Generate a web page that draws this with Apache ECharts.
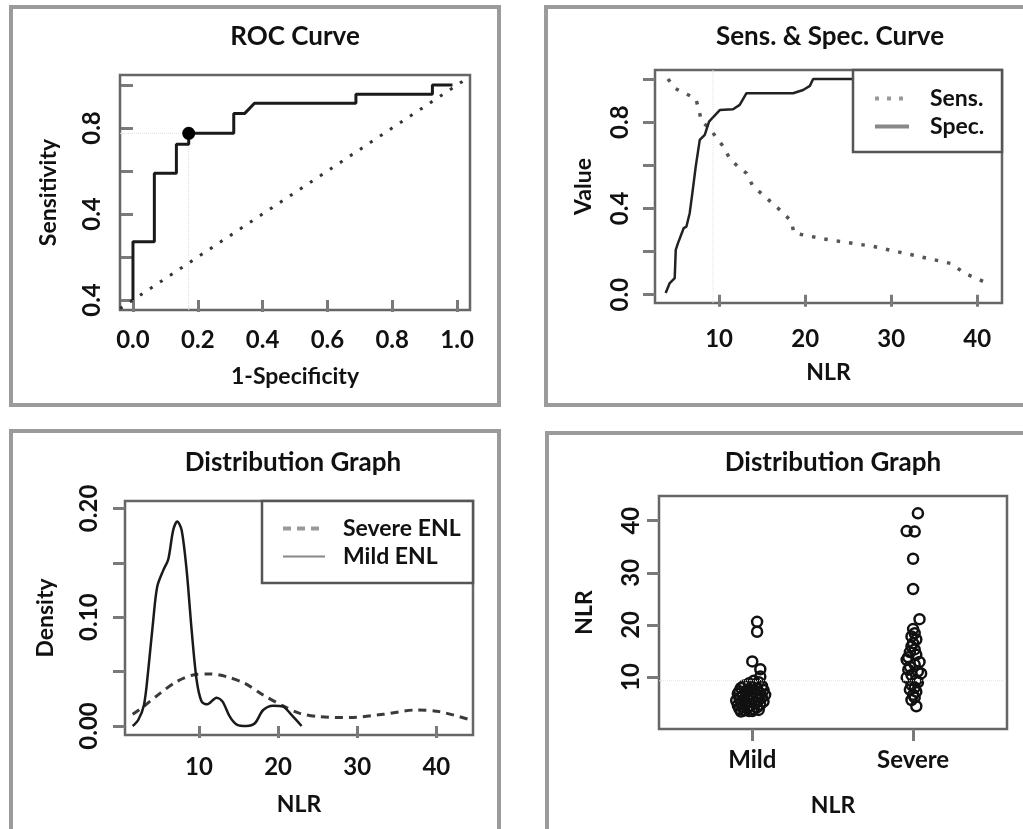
<!DOCTYPE html>
<html>
<head>
<meta charset="utf-8">
<script src="https://cdn.jsdelivr.net/npm/echarts@6/dist/echarts.min.js"></script>
<style>
html,body{margin:0;padding:0;background:#fff}
#main{width:1023px;height:829px}
</style>
</head>
<body>
<div id="main"></div>
<script>
// ROC curve (step points)
var rocFPR = [0, 0, 0.066, 0.066, 0.134, 0.134, 0.172, 0.172, 0.311, 0.311, 0.345, 0.375, 0.688, 0.688, 0.924, 0.924, 0.986];
var rocTPR = [0, 0.271, 0.271, 0.589, 0.589, 0.724, 0.724, 0.775, 0.775, 0.868, 0.868, 0.915, 0.915, 0.957, 0.957, 1.0, 1.0];
var rocBest = [0.172, 0.775];
var rocXTicks = [0, 0.2, 0.4, 0.6, 0.8, 1.0];
var rocYTicks = [0, 0.2, 0.4, 0.6, 0.8, 1.0];
var rocYLabelValues = [0, 0.4, 0.8];
var rocYLabels = ['0.4', '0.4', '0.8'];

// Sens. & Spec. curve
var sensNLR = [4.07, 4.85, 6.0, 7.29, 7.67, 7.95, 8.9, 9.6, 10.55, 11.25, 12.2, 13.2, 13.9, 15.0, 16.2, 17.4, 18.4, 18.7, 22.1, 27.9, 34.1, 37.0, 38.5, 41.3];
var sensVal = [1.0, 0.957, 0.934, 0.91, 0.856, 0.803, 0.772, 0.733, 0.684, 0.63, 0.594, 0.563, 0.505, 0.466, 0.424, 0.381, 0.34, 0.286, 0.259, 0.224, 0.17, 0.144, 0.10, 0.051];
var specNLR = [3.80, 4.27, 4.85, 4.97, 5.23, 5.90, 6.21, 6.59, 6.90, 7.29, 7.76, 8.34, 8.84, 9.38, 10.08, 11.63, 12.40, 13.19, 18.60, 19.77, 20.55, 20.93, 41.3];
var specVal = [0.008, 0.054, 0.077, 0.208, 0.239, 0.309, 0.316, 0.378, 0.471, 0.594, 0.718, 0.741, 0.802, 0.826, 0.856, 0.860, 0.880, 0.934, 0.934, 0.949, 0.968, 1.0, 1.0];
var cutoff = 9.3;
var nlrTicks = [10, 20, 30, 40];
var valueTicks = [0, 0.2, 0.4, 0.6, 0.8, 1.0];
var valueLabelValues = [0, 0.4, 0.8];
var valueLabels = ['0.0', '0.4', '0.8'];

// Density curves
var mildX = [1.63, 2.33, 3.06, 3.6, 4.23, 4.73, 5.49, 6.12, 6.75, 7.26, 7.82, 8.45, 9.08, 9.71, 10.34, 11.05, 12.23, 12.99, 13.9, 14.84, 16.0, 17.07, 18.12, 19.38, 20.64, 21.7, 22.97];
var mildY = [0.0, 0.0055, 0.0193, 0.0515, 0.0974, 0.128, 0.143, 0.153, 0.18, 0.188, 0.18, 0.143, 0.0882, 0.0423, 0.0224, 0.0199, 0.026, 0.0224, 0.0086, 0.001, 0.0, 0.0025, 0.0147, 0.0187, 0.0178, 0.0101, 0.0];
var sevX = [1.63, 3.0, 5.08, 7.18, 9.28, 11.39, 13.5, 15.8, 18.12, 20.64, 22.75, 25.28, 29.07, 33.27, 37.5, 40.4, 44.6];
var sevY = [0.0107, 0.0178, 0.030, 0.0407, 0.0469, 0.0478, 0.0453, 0.0392, 0.0285, 0.0184, 0.0116, 0.0086, 0.0077, 0.0107, 0.0147, 0.0132, 0.0049];
var densTicks = [0, 0.05, 0.10, 0.15, 0.20];
var densLabelValues = [0, 0.10, 0.20];

// Strip chart (x = group position with jitter)
var groups = ['Mild', 'Severe'];
var mildJit = [1.03, 1.03, 1.00, 1.05, 1.05,
    1.01, 1.04, 0.98, 1.02, 0.95, 1.06, 1.00, 0.93, 1.03, 0.97, 1.07, 0.92, 1.01, 0.96, 1.05,
    0.91, 0.99, 1.08, 0.94, 1.03, 0.97, 1.06, 0.92, 1.00, 0.95, 1.04, 0.90, 0.98, 1.07, 0.93,
    1.02, 0.96, 1.05, 0.91, 0.99, 0.94, 1.03, 0.97, 0.92, 1.01, 0.95, 1.04, 0.98, 0.93, 1.00];
var mildNLR = [20.6, 18.7, 13.0, 11.5, 10.1,
    9.3, 9.0, 8.8, 8.6, 8.4, 8.3, 8.1, 7.9, 7.8, 7.6, 7.5, 7.3, 7.2, 7.0, 6.9,
    6.8, 6.7, 6.6, 6.5, 6.4, 6.2, 6.1, 6.0, 5.9, 5.7, 5.6, 5.5, 5.4, 5.3, 5.1,
    5.0, 4.9, 4.7, 4.6, 4.5, 4.3, 4.2, 4.0, 3.9, 3.8, 3.6, 3.7, 3.5, 3.4, 3.5];
var sevJit = [2.03, 1.96, 2.01, 2.00, 2.00, 2.04,
    2.00, 2.01, 1.99, 2.02, 2.00, 1.99, 2.01, 1.98, 2.02, 1.97, 1.96, 2.04, 2.01, 1.98,
    1.97, 2.03, 2.05, 1.99, 1.96, 2.02, 2.03, 1.99, 2.01, 1.98, 2.02, 2.00, 2.01, 1.99, 2.02];
var sevNLR = [41.4, 38.0, 37.9, 32.7, 26.9, 21.1,
    19.2, 18.4, 17.8, 17.2, 16.5, 15.9, 15.3, 14.8, 14.3, 13.8, 13.3, 12.9, 12.4, 12.0,
    11.4, 11.1, 10.7, 10.4, 9.9, 9.4, 9.0, 8.5, 8.0, 7.6, 7.2, 6.6, 6.1, 5.6, 4.4];
var stripYTicks = [10, 20, 30, 40];

function zip(a, b) {
    return a.map(function (v, i) { return [v, b[i]]; });
}

var FONT = 'Lato';
var BLACK = '#111';

function axisTick(vals) {
    return { show: true, customValues: vals, length: 12, lineStyle: { color: '#7a7a7a', width: 3 } };
}
function nameStyle() {
    return { fontFamily: FONT, fontWeight: 'bold', fontSize: 23, color: BLACK };
}
function labelBase(vals, margin, fmt, rotate) {
    return {
        customValues: vals, margin: margin, rotate: rotate || 0, formatter: fmt,
        fontFamily: FONT, fontWeight: 'bold', fontSize: 24, color: BLACK
    };
}
function lookup(vals, labels) {
    return function (v) {
        for (var i = 0; i < vals.length; i++) {
            if (Math.abs(vals[i] - v) < 1e-6) return labels[i];
        }
        return '';
    };
}

var myChart = echarts.init(document.getElementById('main'));
var titleStyle = { fontFamily: FONT, fontWeight: 'bold', fontSize: 26, color: BLACK };
var legendText = { fontFamily: FONT, fontWeight: 'bold', fontSize: 23, color: BLACK, lineHeight: 22 };

var option = {
    backgroundColor: '#fff',
    animation: false,
    title: [
        { text: 'ROC Curve', left: 290, top: 19, textAlign: 'center', textStyle: titleStyle },
        { text: 'Sens. & Spec. Curve', left: 825, top: 19, textAlign: 'center', textStyle: titleStyle },
        { text: 'Distribution Graph', left: 288, top: 445, textAlign: 'center', textStyle: titleStyle },
        { text: 'Distribution Graph', left: 828, top: 445, textAlign: 'center', textStyle: titleStyle }
    ],
    grid: [
        { left: 120, top: 75, width: 350, height: 235, show: true, borderColor: '#666', borderWidth: 2.5 },
        { left: 655, top: 70, width: 347, height: 233, show: true, borderColor: '#666', borderWidth: 2.5 },
        { left: 125, top: 501, width: 348, height: 234, show: true, borderColor: '#666', borderWidth: 2.5 },
        { left: 659, top: 496, width: 348, height: 233, show: true, borderColor: '#666', borderWidth: 2.5 }
    ],
    xAxis: [
        {
            gridIndex: 0, type: 'value', min: -0.04, max: 1.04,
            axisLine: { show: false }, splitLine: { show: false },
            axisTick: axisTick(rocXTicks),
            axisLabel: labelBase(rocXTicks, 18, function (v) { return v.toFixed(1); }),
            name: '1-Specificity', nameLocation: 'middle', nameGap: 55, nameTextStyle: nameStyle()
        },
        {
            gridIndex: 1, type: 'value', min: 2.56, max: 42.87,
            axisLine: { show: false }, splitLine: { show: false },
            axisTick: axisTick(nlrTicks),
            axisLabel: labelBase(nlrTicks, 24, function (v) { return String(v); }),
            name: 'NLR', nameLocation: 'middle', nameGap: 58, nameTextStyle: nameStyle()
        },
        {
            gridIndex: 2, type: 'value', min: 0.66, max: 44.63,
            axisLine: { show: false }, splitLine: { show: false },
            axisTick: axisTick(nlrTicks),
            axisLabel: labelBase(nlrTicks, 20, function (v) { return String(v); }),
            name: 'NLR', nameLocation: 'middle', nameGap: 58, nameTextStyle: nameStyle()
        },
        {
            gridIndex: 3, type: 'value', min: 0.42, max: 2.584,
            axisLine: { show: false }, splitLine: { show: false },
            axisTick: axisTick([1, 2]),
            axisLabel: labelBase([1, 2], 19, function (v) { return groups[Math.round(v) - 1]; }),
            name: 'NLR', nameLocation: 'middle', nameGap: 65, nameTextStyle: nameStyle()
        }
    ],
    yAxis: [
        {
            gridIndex: 0, type: 'value', min: -0.0465, max: 1.0465,
            axisLine: { show: false }, splitLine: { show: false },
            axisTick: axisTick(rocYTicks),
            axisLabel: labelBase(rocYLabelValues, 16, lookup(rocYLabelValues, rocYLabels), 90),
            name: 'Sensitivity', nameLocation: 'middle', nameGap: 60, nameTextStyle: nameStyle()
        },
        {
            gridIndex: 1, type: 'value', min: -0.0384, max: 1.0417,
            axisLine: { show: false }, splitLine: { show: false },
            axisTick: axisTick(valueTicks),
            axisLabel: labelBase(valueLabelValues, 23, lookup(valueLabelValues, valueLabels), 90),
            name: 'Value', nameLocation: 'middle', nameGap: 60, nameTextStyle: nameStyle()
        },
        {
            gridIndex: 2, type: 'value', min: -0.0083, max: 0.2068,
            axisLine: { show: false }, splitLine: { show: false },
            axisTick: axisTick(densTicks),
            axisLabel: labelBase(densLabelValues, 24, function (v) { return v.toFixed(2); }, 90),
            name: 'Density', nameLocation: 'middle', nameGap: 68, nameTextStyle: nameStyle()
        },
        {
            gridIndex: 3, type: 'value', min: 0.04, max: 44.73,
            axisLine: { show: false }, splitLine: { show: false },
            axisTick: axisTick(stripYTicks),
            axisLabel: labelBase(stripYTicks, 16, function (v) { return String(v); }, 90),
            name: 'NLR', nameLocation: 'middle', nameGap: 63, nameTextStyle: nameStyle()
        }
    ],
    legend: [
        {
            data: [
                { name: 'Sens.', lineStyle: { color: '#999', width: 4, type: [4, 8] } },
                { name: 'Spec.', lineStyle: { color: '#888', width: 4 } }
            ],
            orient: 'vertical', left: 873, top: 87, padding: 0, itemGap: 5,
            itemWidth: 34, itemHeight: 14, z: 7, selectedMode: false,
            itemStyle: { opacity: 0 },
            textStyle: Object.assign({ padding: [0, 0, 0, 16] }, legendText)
        },
        {
            data: [
                { name: 'Severe ENL', lineStyle: { color: '#999', width: 4, type: [8, 6] } },
                { name: 'Mild ENL', lineStyle: { color: '#888', width: 2 } }
            ],
            orient: 'vertical', left: 281, top: 517, padding: 0, itemGap: 5,
            itemWidth: 42, itemHeight: 14, z: 7, selectedMode: false,
            itemStyle: { opacity: 0 },
            textStyle: Object.assign({ padding: [0, 0, 0, 13] }, legendText)
        }
    ],
    graphic: [
        { type: 'rect', shape: { x: 11, y: 7, width: 488, height: 398 }, style: { fill: 'none', stroke: '#9b9b9b', lineWidth: 4 }, z: 0 },
        { type: 'rect', shape: { x: 546, y: 7, width: 520, height: 398 }, style: { fill: 'none', stroke: '#9b9b9b', lineWidth: 4 }, z: 0 },
        { type: 'rect', shape: { x: 11, y: 431, width: 488, height: 430 }, style: { fill: 'none', stroke: '#9b9b9b', lineWidth: 4 }, z: 0 },
        { type: 'rect', shape: { x: 547, y: 433, width: 520, height: 430 }, style: { fill: 'none', stroke: '#9b9b9b', lineWidth: 4 }, z: 0 },
        // legend boxes
        { type: 'rect', shape: { x: 853, y: 70, width: 149, height: 82 }, style: { fill: '#fff', stroke: '#555', lineWidth: 2.5 }, z: 6 },
        { type: 'rect', shape: { x: 262, y: 501, width: 211, height: 82 }, style: { fill: '#fff', stroke: '#555', lineWidth: 2.5 }, z: 6 }
    ],
    series: [
        {
            name: 'ref-h', type: 'line', xAxisIndex: 0, yAxisIndex: 0, silent: true, symbol: 'none',
            data: [[-0.04, rocBest[1]], rocBest],
            lineStyle: { color: '#ddd', width: 1, type: 'dotted' }
        },
        {
            name: 'ref-v', type: 'line', xAxisIndex: 0, yAxisIndex: 0, silent: true, symbol: 'none',
            data: [[rocBest[0], -0.0465], rocBest],
            lineStyle: { color: '#ddd', width: 1, type: 'dotted' }
        },
        {
            name: 'diag', type: 'line', xAxisIndex: 0, yAxisIndex: 0, silent: true, symbol: 'none',
            data: [[-0.04, -0.04], [1.04, 1.04]],
            lineStyle: { color: '#333', width: 3, type: [3, 9] }
        },
        {
            name: 'ROC', type: 'line', xAxisIndex: 0, yAxisIndex: 0, symbol: 'none',
            data: zip(rocFPR, rocTPR),
            lineStyle: { color: '#1a1a1a', width: 3 }
        },
        {
            name: 'best', type: 'scatter', xAxisIndex: 0, yAxisIndex: 0, symbolSize: 13, z: 4,
            data: [rocBest], itemStyle: { color: '#000', opacity: 1 }
        },
        {
            name: 'cut-v', type: 'line', xAxisIndex: 1, yAxisIndex: 1, silent: true, symbol: 'none',
            data: [[cutoff, -0.0384], [cutoff, 1.0417]],
            lineStyle: { color: '#e2e2e2', width: 1, type: 'dotted' }
        },
        {
            name: 'Sens.', type: 'line', xAxisIndex: 1, yAxisIndex: 1, symbol: 'none',
            data: zip(sensNLR, sensVal),
            lineStyle: { color: '#555', width: 3.5, type: [3.5, 9] }
        },
        {
            name: 'Spec.', type: 'line', xAxisIndex: 1, yAxisIndex: 1, symbol: 'none',
            data: zip(specNLR, specVal),
            lineStyle: { color: '#222', width: 2.5 }
        },
        {
            name: 'Severe ENL', type: 'line', xAxisIndex: 2, yAxisIndex: 2, symbol: 'none', smooth: 0.3,
            data: zip(sevX, sevY),
            lineStyle: { color: '#3a3a3a', width: 3, type: [8, 6] }
        },
        {
            name: 'Mild ENL', type: 'line', xAxisIndex: 2, yAxisIndex: 2, symbol: 'none', smooth: 0.3,
            data: zip(mildX, mildY),
            lineStyle: { color: '#1a1a1a', width: 2.5 }
        },
        {
            name: 'cut-h', type: 'line', xAxisIndex: 3, yAxisIndex: 3, silent: true, symbol: 'none',
            data: [[0.42, cutoff], [2.584, cutoff]],
            lineStyle: { color: '#e2e2e2', width: 1, type: 'dotted' }
        },
        {
            name: 'Mild', type: 'scatter', xAxisIndex: 3, yAxisIndex: 3, symbol: 'circle', symbolSize: 10,
            data: zip(mildJit, mildNLR),
            itemStyle: { color: 'rgba(0,0,0,0)', borderColor: '#111', borderWidth: 2.5, opacity: 1 }
        },
        {
            name: 'Severe', type: 'scatter', xAxisIndex: 3, yAxisIndex: 3, symbol: 'circle', symbolSize: 10,
            data: zip(sevJit, sevNLR),
            itemStyle: { color: 'rgba(0,0,0,0)', borderColor: '#111', borderWidth: 2.5, opacity: 1 }
        }
    ]
};
myChart.setOption(option);
</script>
</body>
</html>
